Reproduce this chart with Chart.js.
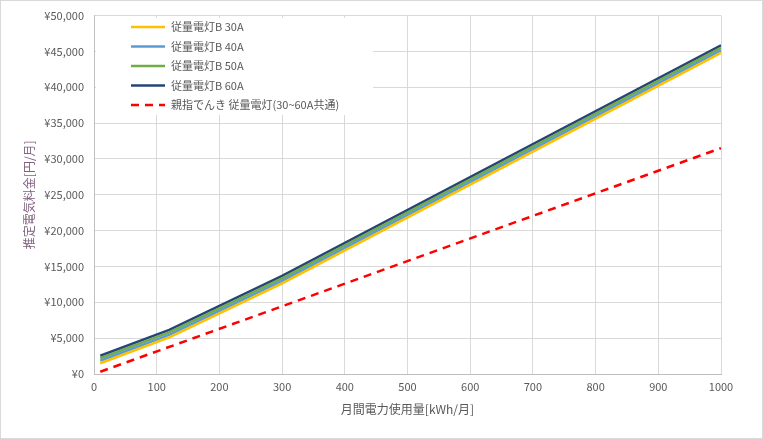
<!DOCTYPE html>
<html>
<head>
<meta charset="utf-8">
<script src="https://cdn.jsdelivr.net/npm/chart.js@4.4.0/dist/chart.umd.min.js"></script>
<style>
  body { margin: 0; background: #fff; }
</style>
</head>
<body>
<canvas id="chart" width="763" height="439"></canvas>
<script>
// usage breakpoints (kWh/month)
const usage = [10, 120, 300, 1000];
const b30 = [1500, 5100, 12650, 44800];
const b40 = [1850, 5450, 13000, 45150];
const b50 = [2200, 5800, 13350, 45500];
const b60 = [2550, 6150, 13700, 45850];
const oyayubiUsage = [10, 1000];
const oyayubi = [315, 31500];

const seriesNames = ['従量電灯B 30A', '従量電灯B 40A', '従量電灯B 50A', '従量電灯B 60A', '親指でんき 従量電灯(30~60A共通)'];
const colors = ['#FFC000', '#5B9BD5', '#70AD47', '#264478', '#FF0000'];

const font = '"Noto Sans CJK JP", "Noto Sans", sans-serif';

function pts(xs, ys) {
  return xs.map((x, i) => ({ x: x, y: ys[i] }));
}

const datasets = [b30, b40, b50, b60].map((vals, i) => ({
  label: seriesNames[i],
  data: pts(usage, vals),
  borderColor: colors[i],
  borderWidth: 2.5,
  pointRadius: 0,
  showLine: true,
  fill: false
}));
datasets.push({
  label: seriesNames[4],
  data: pts(oyayubiUsage, oyayubi),
  borderColor: colors[4],
  borderWidth: 2.5,
  borderDash: [8, 6],
  pointRadius: 0,
  showLine: true,
  fill: false
});

// legend drawn inside the plot, over the gridlines, with a white box
const boxLegend = {
  id: 'boxLegend',
  beforeDatasetsDraw(chart) {
    const c = chart.ctx;
    c.save();
    c.fillStyle = '#fff';
    c.fillRect(96, 18, 277, 97);
    chart.data.datasets.forEach((ds, i) => {
      const y = 27 + i * 19.5;
      c.beginPath();
      c.strokeStyle = ds.borderColor;
      c.lineWidth = 2.5;
      c.setLineDash(ds.borderDash || []);
      c.moveTo(131, y);
      c.lineTo(165, y);
      c.stroke();
      c.setLineDash([]);
      c.fillStyle = '#595959';
      c.font = '11px ' + font;
      c.textBaseline = 'middle';
      c.fillText(ds.label, 171, y);
    });
    c.restore();
  },
  afterDraw(chart) {
    const c = chart.ctx;
    c.save();
    c.strokeStyle = '#d9d9d9';
    c.lineWidth = 1;
    c.strokeRect(0.5, 0.5, chart.width - 1, chart.height - 1);
    c.restore();
  }
};

new Chart(document.getElementById('chart'), {
  type: 'scatter',
  data: { datasets: datasets },
  plugins: [boxLegend],
  options: {
    responsive: false,
    animation: false,
    layout: { padding: { top: 14, right: 42, left: 18, bottom: 18 } },
    plugins: {
      legend: { display: false },
      tooltip: { enabled: false }
    },
    scales: {
      x: {
        type: 'linear',
        min: 0,
        max: 1000,
        ticks: { stepSize: 100, color: '#595959', font: { family: font, size: 11 }, padding: 6, callback: v => String(v) },
        grid: { color: '#d9d9d9', drawTicks: false },
        border: { color: '#bfbfbf' },
        title: { display: true, text: '月間電力使用量[kWh/月]', color: '#595959', font: { family: font, size: 12 }, padding: { top: 8 } },
        afterFit(scale) { scale.height = 47; }
      },
      y: {
        min: 0,
        max: 50000,
        ticks: {
          stepSize: 5000,
          color: '#595959',
          font: { family: font, size: 11, lineHeight: 1 },
          padding: 10,
          callback: v => '¥' + v.toLocaleString('en-US')
        },
        grid: { color: '#d9d9d9', drawTicks: false },
        border: { color: '#bfbfbf' },
        title: { display: true, text: '推定電気料金[円/月]', color: '#7f607f', font: { family: font, size: 12 }, padding: { bottom: 8 } },
        afterFit(scale) { scale.width = 76; }
      }
    }
  }
});
</script>
</body>
</html>
